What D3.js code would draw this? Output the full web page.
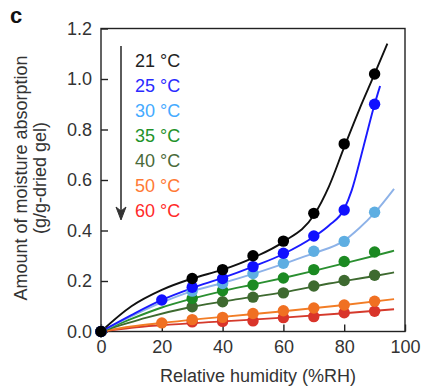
<!DOCTYPE html>
<html>
<head>
<meta charset="utf-8">
<script src="https://cdn.jsdelivr.net/npm/d3@7"></script>
<style>
  body { margin: 0; background: #fff; }
  svg { font-family: "Liberation Sans", Arial, sans-serif; }
</style>
</head>
<body>
<svg id="chart" width="422" height="389"></svg>
<script>
// measured humidity steps (%RH)
const rh = [0, 20, 30, 40, 50, 60, 70, 80, 90];
const temps = ["21 °C", "25 °C", "30 °C", "35 °C", "40 °C", "50 °C", "60 °C"];

// measured absorption (g/g-dried gel), null = no point shown
const abs21 = [0, null, 0.21, 0.245, 0.3, 0.358, 0.468, 0.743, 1.02];
const abs25 = [0, 0.125, 0.175, 0.21, 0.257, 0.31, 0.378, 0.481, 0.9];
const abs30 = [0, null, 0.16, 0.19, 0.23, 0.27, 0.318, 0.357, 0.472];
const abs35 = [0, null, 0.131, 0.162, 0.184, 0.212, 0.245, 0.277, 0.315];
const abs40 = [0, null, 0.098, 0.118, 0.136, 0.153, 0.18, 0.202, 0.223];
const abs50 = [0, 0.034, 0.047, 0.056, 0.071, 0.082, 0.093, 0.105, 0.12];
const abs60 = [0, null, 0.038, 0.04, 0.042, 0.055, 0.059, 0.074, 0.08];

// fitted curves
const fitX21 = [0, 10, 20, 30, 40, 50, 60, 70, 75, 80, 85, 90, 94.2];
const fitY21 = [0, 0.1, 0.165, 0.21, 0.245, 0.292, 0.355, 0.46, 0.575, 0.73, 0.88, 1.02, 1.14];
const fitX25 = [0, 10, 20, 30, 40, 50, 60, 70, 75, 80, 82.5, 86.3, 90, 91.8];
const fitY25 = [0, 0.065, 0.125, 0.172, 0.212, 0.257, 0.307, 0.375, 0.42, 0.485, 0.56, 0.73, 0.9, 0.972];
const fitX30 = [0, 10, 20, 30, 40, 50, 60, 70, 80, 85, 90, 96.4];
const fitY30 = [0, 0.06, 0.115, 0.16, 0.192, 0.228, 0.268, 0.31, 0.36, 0.41, 0.47, 0.565];
const fitX35 = [0, 10, 20, 30, 40, 50, 60, 70, 80, 90, 96.4];
const fitY35 = [0, 0.05, 0.095, 0.13, 0.16, 0.186, 0.212, 0.24, 0.27, 0.3, 0.32];
const fitX40 = [0, 15, 30, 45, 60, 75, 90, 96.4];
const fitY40 = [0, 0.055, 0.098, 0.128, 0.155, 0.19, 0.22, 0.234];
const fitX50 = [0, 10, 20, 40, 60, 80, 96.4];
const fitY50 = [0, 0.02, 0.034, 0.058, 0.08, 0.105, 0.128];
const fitX60 = [0, 10, 20, 40, 60, 80, 96.4];
const fitY60 = [0, 0.015, 0.025, 0.04, 0.055, 0.072, 0.088];

const xTicks = [0, 20, 40, 60, 80, 100];
const yTicks = [0, 0.2, 0.4, 0.6, 0.8, 1.0, 1.2];

const dotColors = ["#000000", "#1010ff", "#5eaee2", "#1b8a22", "#3e6a30", "#f07022", "#d9342a"];
const lineColors = ["#111111", "#1a1aff", "#8db2e8", "#2a8f30", "#3e6a30", "#f27d26", "#d53a2c"];
const labelColors = ["#222222", "#2a2aff", "#44aaff", "#22922a", "#4a6a3a", "#ff7a36", "#ff2a2a"];

const series = [
  { values: abs21, fx: fitX21, fy: fitY21 },
  { values: abs25, fx: fitX25, fy: fitY25 },
  { values: abs30, fx: fitX30, fy: fitY30 },
  { values: abs35, fx: fitX35, fy: fitY35 },
  { values: abs40, fx: fitX40, fy: fitY40 },
  { values: abs50, fx: fitX50, fy: fitY50 },
  { values: abs60, fx: fitX60, fy: fitY60 }
].map((s, i) => ({ ...s, i }));

const MARGIN = { top: 28.5, right: 17, bottom: 57.5, left: 101 };
const width = 422, height = 389;
const boundsWidth = width - MARGIN.left - MARGIN.right;
const boundsHeight = height - MARGIN.top - MARGIN.bottom;

const svg = d3.select("#chart");
const g = svg.append("g").attr("transform", `translate(${MARGIN.left},${MARGIN.top})`);

const xScale = d3.scaleLinear().domain([0, 100]).range([0, boundsWidth]);
const yScale = d3.scaleLinear().domain([0, 1.2]).range([boundsHeight, 0]);

// frame
g.append("rect")
  .attr("width", boundsWidth).attr("height", boundsHeight)
  .attr("fill", "none").attr("stroke", "#222").attr("stroke-width", 1.4);

// axes with inward ticks
const xAxis = g.append("g")
  .attr("transform", `translate(0,${boundsHeight})`)
  .call(d3.axisBottom(xScale).tickValues(xTicks).tickSizeInner(-7).tickSizeOuter(0).tickPadding(16));
const yAxis = g.append("g")
  .call(d3.axisLeft(yScale).tickValues(yTicks).tickFormat(d3.format(".1f")).tickSizeInner(-7).tickSizeOuter(0).tickPadding(16));

[xAxis, yAxis].forEach((ax) => {
  ax.select(".domain").remove();
  ax.selectAll(".tick line").attr("stroke", "#222").attr("stroke-width", 1.4);
  ax.selectAll(".tick text")
    .attr("fill", "#333")
    .style("font-size", "18px")
    .style("font-family", "'Liberation Sans', Arial, sans-serif");
});
yAxis.selectAll(".tick text").attr("x", -9);
xAxis.selectAll(".tick text").attr("y", 9);

// fitted curves (drawn back to front)
const line = d3.line()
  .x((d) => xScale(d[0]))
  .y((d) => yScale(d[1]))
  .curve(d3.curveMonotoneX);

const order = series.slice().reverse();

g.append("g").selectAll("path")
  .data(order)
  .join("path")
  .attr("fill", "none")
  .attr("stroke", (d) => lineColors[d.i])
  .attr("stroke-width", 1.9)
  .attr("d", (d) => line(d.fx.map((x, k) => [x, d.fy[k]])));

// points
order.forEach((s) => {
  g.append("g").selectAll("circle")
    .data(rh.map((x, k) => ({ x, y: s.values[k] })).filter((d) => d.y !== null))
    .join("circle")
    .attr("cx", (d) => xScale(d.x))
    .attr("cy", (d) => yScale(d.y))
    .attr("r", 5.7)
    .attr("fill", dotColors[s.i]);
});

// legend with arrow
const legend = svg.append("g");
legend.selectAll("text")
  .data(temps)
  .join("text")
  .attr("x", 135)
  .attr("y", (d, i) => 67 + i * 25)
  .attr("fill", (d, i) => labelColors[i])
  .style("font-size", "18px")
  .text((d) => d);

legend.append("line")
  .attr("x1", 121).attr("x2", 121).attr("y1", 46).attr("y2", 219)
  .attr("stroke", "#333").attr("stroke-width", 1.6);
legend.append("path")
  .attr("d", "M116,207 L121,220 L126,207 L121,211 Z")
  .attr("fill", "#333").attr("stroke", "#333").attr("stroke-width", 1);

// axis titles
svg.append("text")
  .attr("x", 258).attr("y", 382)
  .attr("text-anchor", "middle")
  .attr("fill", "#333")
  .style("font-size", "18px")
  .text("Relative humidity (%RH)");

const yTitle = svg.append("g").attr("transform", "translate(0,178) rotate(-90)");
yTitle.append("text")
  .attr("x", 0).attr("y", 27)
  .attr("text-anchor", "middle").attr("fill", "#333")
  .style("font-size", "18px")
  .text("Amount of moisture absorption");
yTitle.append("text")
  .attr("x", 0).attr("y", 46)
  .attr("text-anchor", "middle").attr("fill", "#333")
  .style("font-size", "18px")
  .text("(g/g-dried gel)");

// panel letter
svg.append("text")
  .attr("x", 10).attr("y", 23)
  .attr("fill", "#111")
  .style("font-size", "22px").style("font-weight", "bold")
  .text("c");
</script>
</body>
</html>
